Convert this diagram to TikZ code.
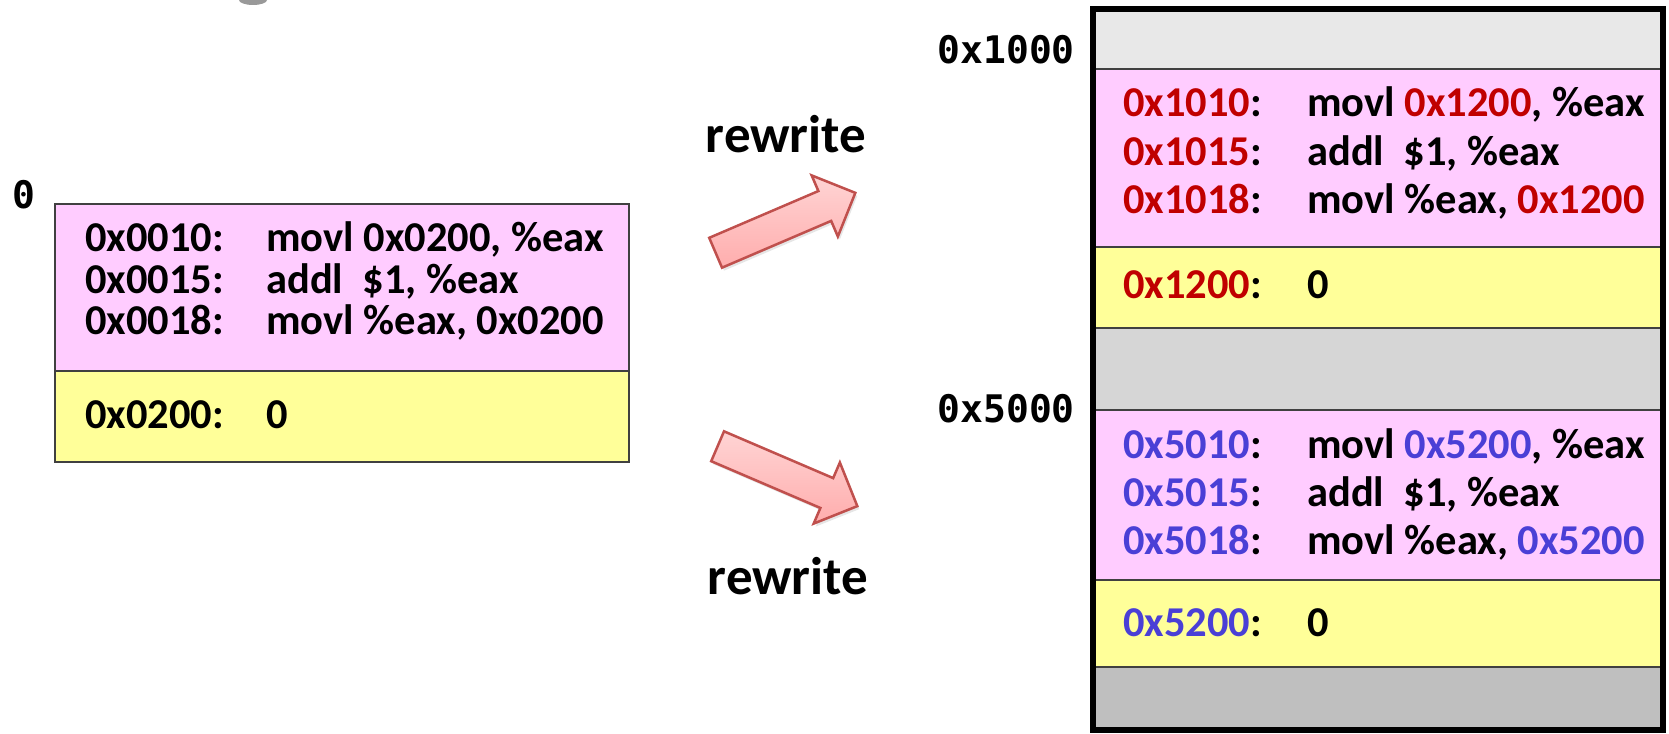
\documentclass[tikz,border=0pt]{standalone}
\usepackage{fontspec}
\setmainfont{Carlito}
\newfontfamily\codefont{DejaVu Sans Mono}
\usetikzlibrary{shapes.arrows,shadows}
\definecolor{codepink}{HTML}{FFCCFF}
\definecolor{datayellow}{HTML}{FFFF99}
\definecolor{bandlight}{HTML}{E8E8E8}
\definecolor{bandmid}{HTML}{D6D6D6}
\definecolor{banddark}{HTML}{BFBFBF}
\definecolor{addrred}{HTML}{C00000}
\definecolor{addrblue}{HTML}{4A3FD6}
\definecolor{arrowedge}{HTML}{C0504D}
\definecolor{arrowtop}{HTML}{FFD4D4}
\definecolor{arrowbot}{HTML}{FFADAD}
\definecolor{boxline}{HTML}{404040}
\begin{document}
\begin{tikzpicture}[x=1pt,y=-1pt,
  txt/.style={anchor=base west, inner sep=0pt, font=\fontsize{42.5}{50}\selectfont\bfseries},
  memlabel/.style={anchor=base east, inner sep=0pt, font=\codefont\fontsize{38}{44}\selectfont\bfseries},
  rw/.style={anchor=base, inner sep=0pt, font=\fontsize{53}{60}\selectfont\bfseries},
  blockarrow/.style={shape=single arrow, draw=arrowedge, line width=2.5pt,
    top color=arrowtop, bottom color=arrowbot,
    inner xsep=0pt, inner ysep=15pt, minimum height=152pt,
    single arrow head extend=17pt,
    drop shadow={opacity=0.2, shadow xshift=2pt, shadow yshift=-3pt}},
  divider/.style={draw=boxline, line width=1.3pt}]
\useasboundingbox (0,0) rectangle (1669,733);

% clipped title descender at the top edge
\fill[gray!80] (253,0) ellipse [x radius=14, y radius=5];

% ---------- original program image ----------
\fill[codepink] (55,204) rectangle (629,371);
\fill[datayellow] (55,371) rectangle (629,462);
\draw[divider] (55,371) -- (629,371);
\draw[boxline, line width=1.5pt] (55,204) rectangle (629,462);

\node[memlabel, anchor=base] (zero) at (24,208) {0};

\node[txt] (a1) at (85,251) {0x0010:};
\node[txt] (i1) at (266,251) {movl 0x0200, \%eax};
\node[txt] (a2) at (85,293) {0x0015:};
\node[txt] (i2) at (266,293) {addl\ \ \$1, \%eax};
\node[txt] (a3) at (85,334) {0x0018:};
\node[txt] (i3) at (266,334) {movl \%eax, 0x0200};
\node[txt] (a4) at (85,428) {0x0200:};
\node[txt] (i4) at (266,428) {0};

% ---------- rewrite arrows ----------
\node[blockarrow, rotate=23.2] (up) at (778,226) {};
\node[blockarrow, rotate=-23.2] (down) at (780,473) {};
\node[rw] (rw1) at (786,152) {rewrite};
\node[rw] (rw2) at (788,594) {rewrite};

% ---------- physical memory ----------
\fill[bandlight] (1093,9) rectangle (1663,69);
\fill[codepink] (1093,69) rectangle (1663,247);
\fill[datayellow] (1093,247) rectangle (1663,328);
\fill[bandmid] (1093,328) rectangle (1663,410);
\fill[codepink] (1093,410) rectangle (1663,580);
\fill[datayellow] (1093,580) rectangle (1663,667);
\fill[banddark] (1093,667) rectangle (1663,730);
\foreach \yy in {69,247,328,410,580,667}
  \draw[divider] (1093,\yy) -- (1663,\yy);
\draw[black, line width=6pt] (1093,9.5) rectangle (1663,730);

\node[memlabel] (base1) at (1075,64) {0x1000};
\node[memlabel] (base5) at (1075,422) {0x5000};

\node[txt] (r1) at (1123,117) {\textcolor{addrred}{0x1010}:};
\node[txt] (s1) at (1307,117) {movl \textcolor{addrred}{0x1200}, \%eax};
\node[txt] (r2) at (1123,165) {\textcolor{addrred}{0x1015}:};
\node[txt] (s2) at (1307,165) {addl\ \ \$1, \%eax};
\node[txt] (r3) at (1123,213) {\textcolor{addrred}{0x1018}:};
\node[txt] (s3) at (1307,213) {movl \%eax, \textcolor{addrred}{0x1200}};
\node[txt] (r4) at (1123,298) {\textcolor{addrred}{0x1200}:};
\node[txt] (s4) at (1307,298) {0};

\node[txt] (b1) at (1123,458) {\textcolor{addrblue}{0x5010}:};
\node[txt] (t1) at (1307,458) {movl \textcolor{addrblue}{0x5200}, \%eax};
\node[txt] (b2) at (1123,506) {\textcolor{addrblue}{0x5015}:};
\node[txt] (t2) at (1307,506) {addl\ \ \$1, \%eax};
\node[txt] (b3) at (1123,554) {\textcolor{addrblue}{0x5018}:};
\node[txt] (t3) at (1307,554) {movl \%eax, \textcolor{addrblue}{0x5200}};
\node[txt] (b4) at (1123,636) {\textcolor{addrblue}{0x5200}:};
\node[txt] (t4) at (1307,636) {0};
\end{tikzpicture}
\end{document}
